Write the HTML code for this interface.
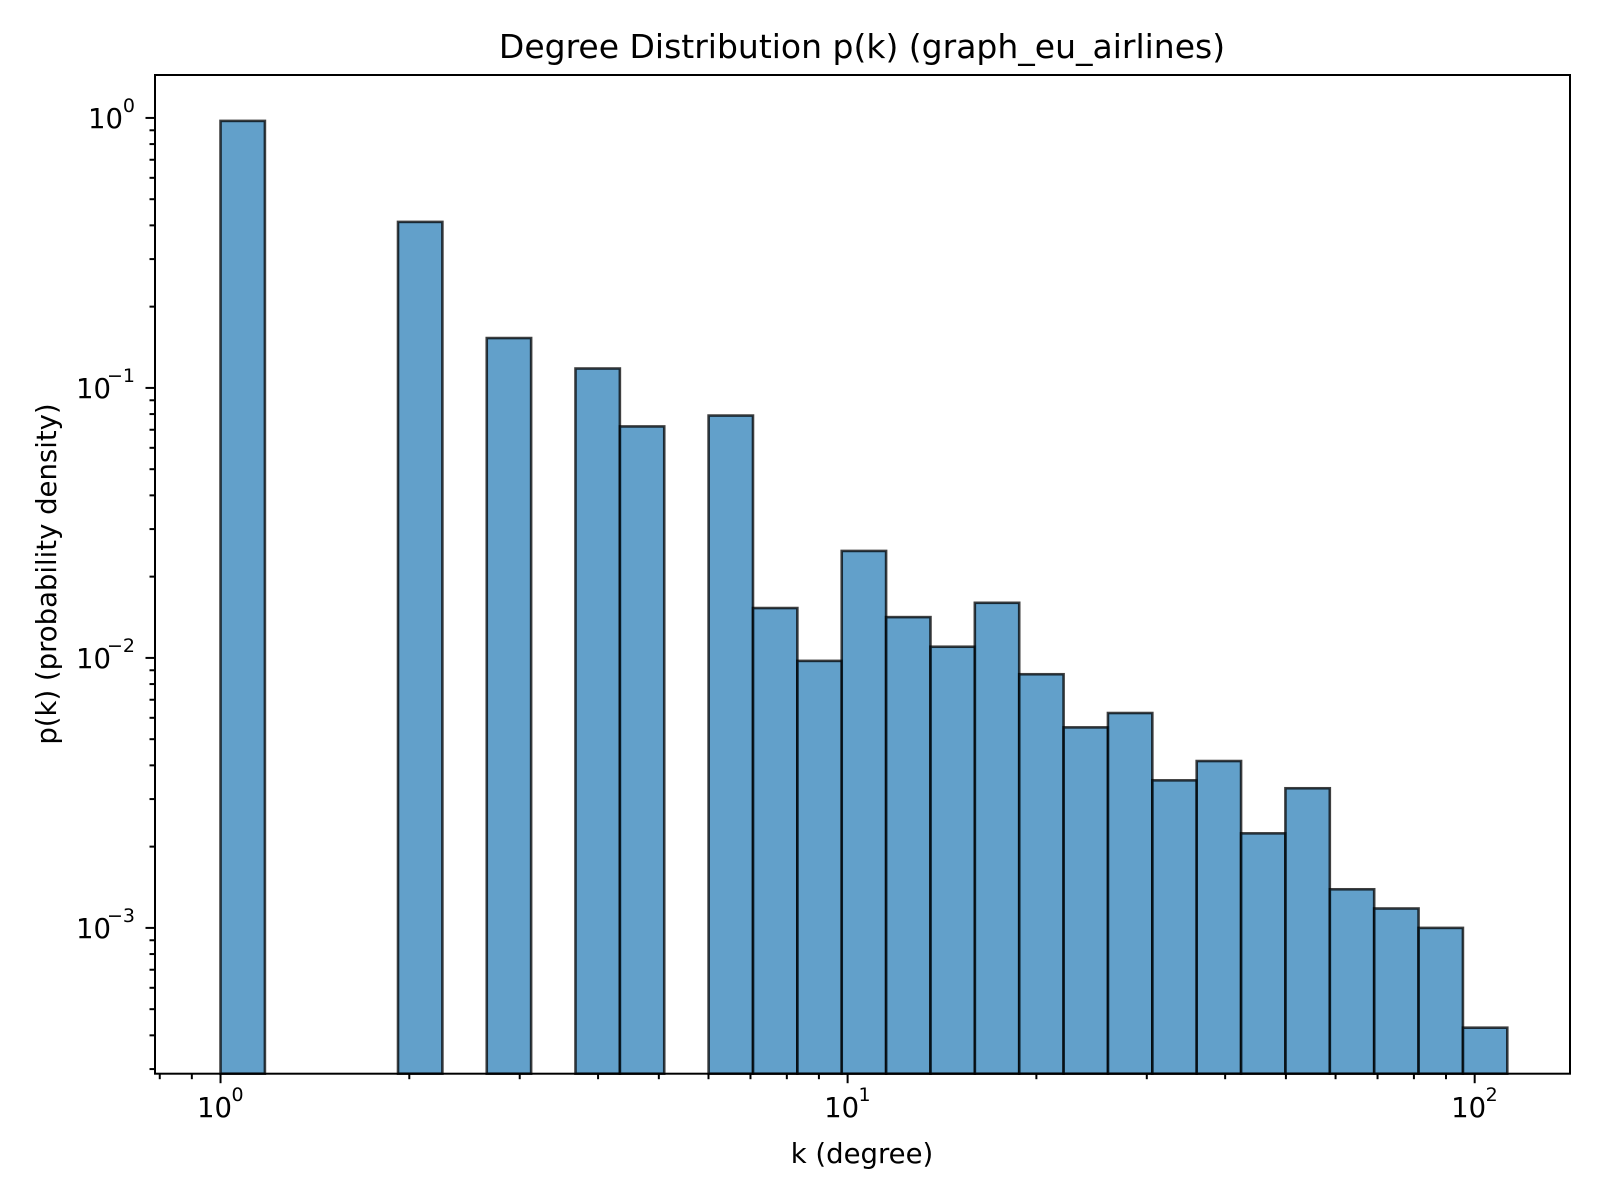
<!DOCTYPE html>
<html><head><meta charset="utf-8"><style>
html,body{margin:0;padding:0;background:#fff;}
svg{display:block;font-family:"DejaVu Sans","Liberation Sans",sans-serif;}
</style></head><body>
<svg id="chart" width="1600" height="1200" viewBox="0 0 1600 1200">
<rect width="1600" height="1200" fill="#fff"/>
<text x="862" y="58" font-size="33" text-anchor="middle">Degree Distribution p(k) (graph_eu_airlines)</text>
<text x="862" y="1163" font-size="27.5" text-anchor="middle">k (degree)</text>
<text transform="translate(56,574) rotate(-90)" font-size="27.5" text-anchor="middle">p(k) (probability density)</text>
<g id="bars"></g>
<g id="axes"></g>
</svg>
<script>
// Histogram data: log-spaced bins from 10^0 to 10^2.052, 29 bins; null = empty bin
const binLogStart = 0;
const binLogEnd = 2.052;
const binCount = 29;
const binValues = [0.975,null,null,null,0.412,null,0.153,null,0.118,0.072,null,0.079,0.0153,0.00975,0.0249,0.01416,0.0110,0.0160,0.0087,0.00553,0.00625,0.00352,0.00415,0.00224,0.00329,0.00139,0.00118,0.0010,0.000427];
const xTickExps = [0,1,2];
const yTickExps = [0,-1,-2,-3];

const L=155,R=1570,T=75,B=1073.7;
const xLogMin=-0.1045,xLogMax=2.152;
const yLogMin=-3.54,yLogMax=0.159;
function xs(v){return L+(Math.log10(v)-xLogMin)/(xLogMax-xLogMin)*(R-L);}
function ys(v){return B-(Math.log10(v)-yLogMin)/(yLogMax-yLogMin)*(B-T);}
const NS="http://www.w3.org/2000/svg";
function mk(tag,attrs,parent){const e=document.createElementNS(NS,tag);for(const k in attrs)e.setAttribute(k,attrs[k]);parent.appendChild(e);return e;}
const bars=document.getElementById('bars');
const axes=document.getElementById('axes');
const w=(binLogEnd-binLogStart)/binCount;
binValues.forEach((v,i)=>{
  if(v==null)return;
  const x0=xs(Math.pow(10,binLogStart+i*w)),x1=xs(Math.pow(10,binLogStart+(i+1)*w));
  const y=ys(v);
  const r=mk('rect',{x:x0,y:y,width:x1-x0,height:B-y,fill:'#1f77b4','fill-opacity':0.7,stroke:'#000','stroke-opacity':0.75,'stroke-width':2.6},bars);
  
  
});
const fr=mk('rect',{x:L,y:T,width:R-L,height:B-T,fill:'none',stroke:'#000','stroke-width':2},axes);


for(let e=-1;e<=2;e++){
  for(let m=1;m<10;m++){
    const v=m*Math.pow(10,e);const x=xs(v);
    if(x<L||x>R)continue;
    const major=(m===1);
    mk('line',{x1:x,x2:x,y1:B,y2:B+(major?9.5:5.5),stroke:'#000','stroke-width':2},axes);
  }
}
xTickExps.forEach(e=>{
  const x=xs(Math.pow(10,e));
  const t=mk('text',{x:x-6,y:1117,'font-size':27.5,'text-anchor':'middle'},axes);
  t.textContent='10';
  
  
  const s=mk('text',{x:x+17,y:1101,'font-size':19,'text-anchor':'middle'},axes);
  s.textContent=String(e);
});
for(let e=-4;e<=0;e++){
  for(let m=1;m<10;m++){
    const v=m*Math.pow(10,e);const y=ys(v);
    if(y<T||y>B)continue;
    const major=(m===1);
    mk('line',{x1:L,x2:L-(major?9.5:5.5),y1:y,y2:y,stroke:'#000','stroke-width':2},axes);
  }
}
yTickExps.forEach(e=>{
  const y=ys(Math.pow(10,e));
  const sup=e===0?'0':'\u2212'+(-e);
  const s=mk('text',{x:135,y:y-6,'font-size':19,'text-anchor':'end'},axes);
  s.textContent=sup;
  const bb=sup.length*12;
  const t=mk('text',{x:135-bb,y:y+10,'font-size':27.5,'text-anchor':'end'},axes);
  t.textContent='10';
  
  
});
</script>
</body></html>
